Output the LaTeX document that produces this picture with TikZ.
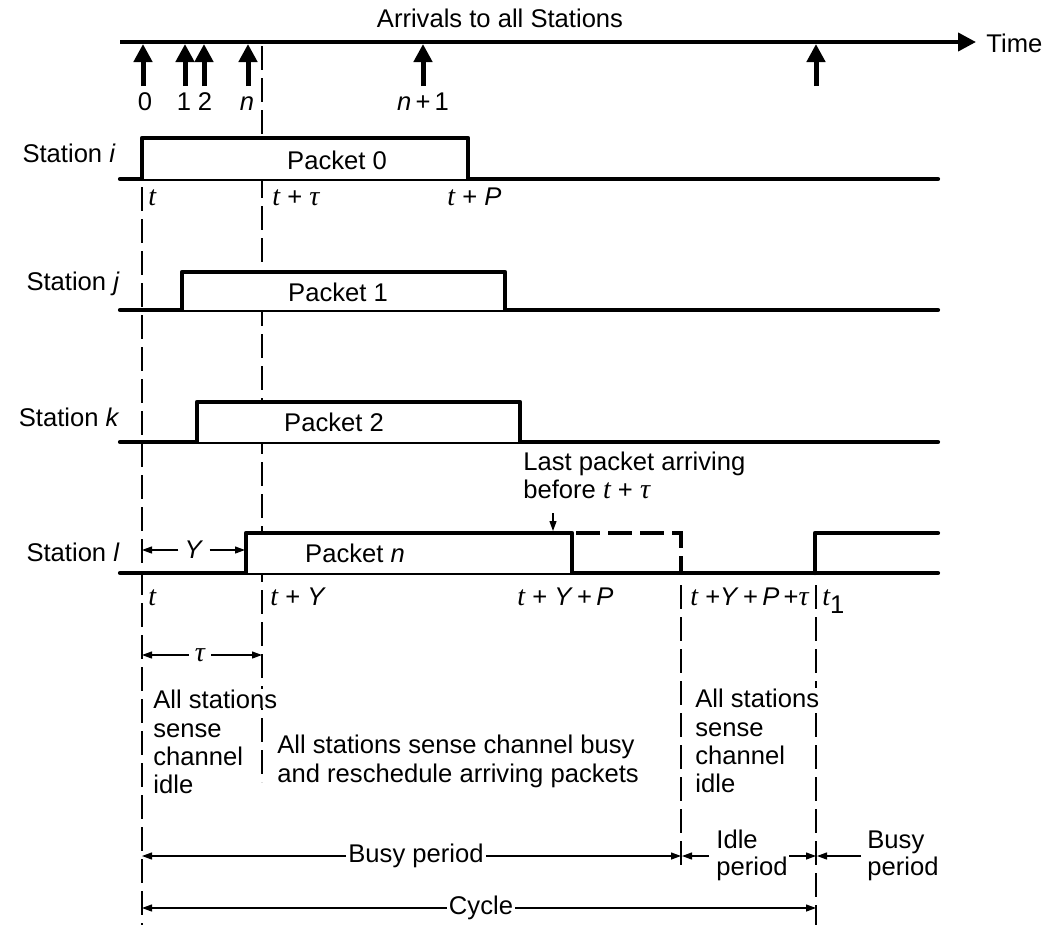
\documentclass[tikz,border=0pt]{standalone}
\usepackage{fontspec}
\setmainfont{Liberation Sans}
\newfontfamily\serfont{Liberation Serif}
\usetikzlibrary{arrows.meta}
\newcommand{\tv}{{\serfont\itshape\fontsize{14}{14}\selectfont t}}
\newcommand{\tauv}{{\serfont\itshape\fontsize{14}{14}\selectfont τ}}
\begin{document}
\begin{tikzpicture}[x=0.5pt,y=-0.5pt,
  font=\fontsize{12.8}{14}\selectfont,
  sig/.style={line width=2.1pt, line join=round, line cap=round},
  pulse/.style={line width=2.1pt, line join=round, fill=white},
  guide/.style={line width=0.7pt, dash pattern=on 12pt off 4pt},
  arrival/.style={line width=2.5pt, -{Triangle[length=9pt,width=9pt]}},
  dimtip/.style={line width=0.6pt, -{Triangle[length=5pt,width=3.5pt]}},
  lbl/.style={inner sep=0pt, anchor=base west},
  txt/.style={inner sep=0pt},
]
\useasboundingbox (0,0) rectangle (1045,927);

% ---- guide lines (dashed) ----
\coordinate (g1a) at (142,187); \coordinate (g1b) at (142,925);
\coordinate (g2a) at (262,46);  \coordinate (g2b) at (262,782);
\coordinate (g3a) at (681,585); \coordinate (g3b) at (681,870);
\coordinate (g4a) at (816,585); \coordinate (g4b) at (816,925);
\draw[guide] (g1a) -- (g1b);
\draw[guide] (g2a) -- (g2b);
\draw[guide] (g3a) -- (g3b);
\draw[guide] (g4a) -- (g4b);

% ---- time axis ----
\node[txt] (title) at (500,18) {Arrivals to all Stations};
\coordinate (ax0) at (120,42);
\coordinate (ax1) at (976,42);
\node[txt, anchor=west] (time) at (986,43) {Time};
\draw[line width=2pt, -{Triangle[length=9pt,width=9pt]}] (ax0) -- (ax1);

\foreach \n/\x in {a0/143, a1/185, a2/204, an/248, an1/423, al/816}{
  \coordinate (\n t) at (\x,86);
  \coordinate (\n h) at (\x,44);
  \draw[arrival] (\n t) -- (\n h);
}
\node[txt, anchor=base] (l0) at (145,110) {0};
\node[txt, anchor=base] (l1) at (184,110) {1};
\node[txt, anchor=base] (l2) at (205,110) {2};
\node[txt, anchor=base] (ln) at (247,110) {\textit{n}};
\node[txt, anchor=base] (ln1) at (423,110) {\textit{n}\,+\,1};

% ---- station i ----
\node[txt, anchor=east] (si) at (116,153) {Station \textit{i}};
\draw[sig] (120,179) -- (938,179);
\draw[pulse] (142,179) -- (142,138) -- (468,138) -- (468,179);
\node[txt] (p0) at (337,160) {Packet 0};
\node[lbl] (ti1) at (148,205) {\tv};
\node[lbl] (ti2) at (272,205) {\tv\ + \tauv};
\node[lbl] (ti3) at (447,205) {\tv\ + \textit{P}};

% ---- station j ----
\node[txt, anchor=east] (sj) at (120,284) {Station \textit{j}};
\draw[sig] (120,310) -- (938,310);
\draw[pulse] (182,310) -- (182,272) -- (505,272) -- (505,310);
\node[txt] (p1) at (338,292) {Packet 1};

% ---- station k ----
\node[txt, anchor=east] (sk) at (120,417) {Station \textit{k}};
\draw[sig] (120,442) -- (938,442);
\draw[pulse] (197,442) -- (197,402) -- (520,402) -- (520,442);
\node[txt] (p2) at (334,422) {Packet 2};

% ---- station l ----
\node[txt, anchor=east] (sl) at (120,552) {Station \textit{l}};
\draw[sig] (120,573) -- (938,573);
\draw[pulse] (246,573) -- (246,533) -- (572,533) -- (572,573);
\draw[line width=2.1pt, dash pattern=on 12pt off 4pt, dash phase=-2pt] (572,533) -- (681,533) -- (681,573);
\draw[sig] (815,573) -- (815,533) -- (938,533);
\node[txt] (pn) at (355,553) {Packet \textit{n}};

% Y dimension
\node[txt] (Ylab) at (194,550) {\textit{Y}};
\coordinate (Y0) at (142,550); \coordinate (Y1) at (245,550);
\draw[dimtip] ([xshift=-3pt]Ylab.west) -- (Y0);
\draw[dimtip] ([xshift=3pt]Ylab.east) -- (Y1);

% last packet note
\node[lbl] (last1) at (523,470) {Last packet arriving};
\node[lbl] (last2) at (523,498) {before \tv\ + \tauv};
\coordinate (la0) at (553,513); \coordinate (la1) at (553,531);
\draw[dimtip] (la0) -- (la1);

% labels under station l
\node[lbl] (tl1) at (148,605) {\tv};
\node[lbl] (tl2) at (270,605) {\tv\ + \textit{Y}};
\node[lbl] (tl3) at (517,605) {\tv\ + \textit{Y}\,+\,\textit{P}};
\node[lbl] (tl4) at (690,605) {\tv\ +\textit{Y}\,+\,\textit{P}\,+\tauv};
\node[lbl] (tl5) at (822,605) {\tv\raisebox{-4pt}{1}};

% tau dimension
\node[txt] (taul) at (200,655) {\tauv};
\coordinate (T0) at (142,655); \coordinate (T1) at (262,655);
\draw[dimtip] ([xshift=-3pt]taul.west) -- (T0);
\draw[dimtip] ([xshift=3pt]taul.east) -- (T1);

% descriptive texts
\node[lbl, fill=white] (asl1) at (153,708) {All stations};
\node[lbl] (asl2) at (153,737) {sense};
\node[lbl] (asl3) at (153,765) {channel};
\node[lbl] (asl4) at (153,793) {idle};

\node[lbl] (bsy1) at (277,753) {All stations sense channel busy};
\node[lbl] (bsy2) at (277,782) {and reschedule arriving packets};

\node[lbl, fill=white] (asr1) at (695,707) {All stations};
\node[lbl] (asr2) at (695,736) {sense};
\node[lbl] (asr3) at (695,764) {channel};
\node[lbl] (asr4) at (695,792) {idle};

% period arrows
\node[txt] (busy) at (416,856) {Busy period};
\coordinate (b0) at (142,856); \coordinate (b1) at (681,856);
\draw[dimtip] ([xshift=-1pt]busy.west) -- (b0);
\draw[dimtip] ([xshift=1pt]busy.east) -- (b1);

\node[lbl] (idle1) at (716,848) {Idle};
\node[lbl] (idle2) at (716,875) {period};
\coordinate (i0) at (709,856); \coordinate (i1) at (789,856);
\coordinate (i0e) at (682,856); \coordinate (i1e) at (816,856);
\draw[dimtip] (i0) -- (i0e);
\draw[dimtip] (i1) -- (i1e);

\node[lbl] (busyr1) at (867,848) {Busy};
\node[lbl] (busyr2) at (867,875) {period};
\coordinate (br0) at (861,856); \coordinate (br1) at (817,856);
\draw[dimtip] (br0) -- (br1);

\node[txt] (cycle) at (481,908) {Cycle};
\coordinate (c0) at (142,908); \coordinate (c1) at (816,908);
\draw[dimtip] ([xshift=-1pt]cycle.west) -- (c0);
\draw[dimtip] ([xshift=1pt]cycle.east) -- (c1);
\end{tikzpicture}
\end{document}
